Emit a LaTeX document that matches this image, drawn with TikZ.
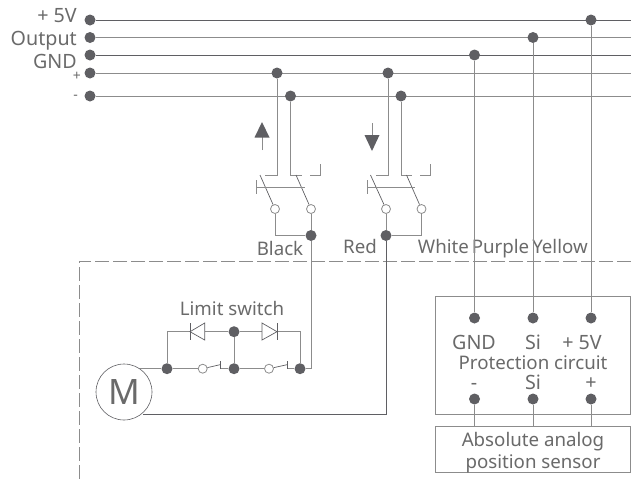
\documentclass[tikz,border=0pt]{standalone}
\usepackage{fontspec}
\setmainfont{Noto Sans}
\usepackage{tikz}
\usetikzlibrary{positioning, calc}
\definecolor{WireGray}{HTML}{8C8C8C}
\definecolor{DarkGray}{HTML}{5F5F63}
\definecolor{TextGray}{HTML}{6A6A6A}

\begin{document}
\begin{tikzpicture}[x=1pt, y=-1pt,
		Dot/.style={circle, fill=DarkGray, inner sep=0pt, minimum size=11pt},
		Open/.style={circle, draw=WireGray, fill=white, line width=0.8pt, inner sep=0pt, minimum size=9pt},
		Wire/.style={draw=WireGray, line width=1pt},
		ThinWire/.style={draw=DarkGray, line width=0.7pt},
		Label/.style={text=TextGray, font=\fontsize{18.7}{18.7}\selectfont, inner sep=0pt, text height=18pt, text depth=4pt},
		BigLabel/.style={Label, font=\fontsize{19.7}{19.7}\selectfont},
		RailSign/.style={Label, anchor=east, font=\fontsize{14}{14}\selectfont, text height=10pt, text depth=0pt},
		Frame/.style={draw=WireGray, line width=0.9pt},
		Arrowhead/.style={fill=DarkGray, draw=none}]

	\useasboundingbox (0,0) rectangle (631,482);

	% supply rails
	\node[Dot] (Vcc) at (90,20) {};
	\node[Dot] (Out) at (90,37.5) {};
	\node[Dot] (Gnd) at (90,55) {};
	\node[Dot] (Plus) at (90,73) {};
	\node[Dot] (Minus) at (90,96) {};
	\coordinate (VccEnd) at (631,20);
	\coordinate (OutEnd) at (631,37.5);
	\coordinate (GndEnd) at (631,55);
	\coordinate (PlusEnd) at (631,73);
	\coordinate (MinusEnd) at (631,96);

	\draw[ThinWire] (Vcc) -- (VccEnd);
	\draw[Wire] (Out) -- (OutEnd);
	\draw[ThinWire] (Gnd) -- (GndEnd);
	\draw[Wire] (Plus) -- (PlusEnd);
	\draw[Wire] (Minus) -- (MinusEnd);

	\node[BigLabel, anchor=east, text height=14pt, text depth=0pt] (VccL) at (77,15) {+ 5V};
	\node[BigLabel, anchor=east, text height=14pt, text depth=0pt] (OutL) at (77,38) {Output};
	\node[BigLabel, anchor=east, text height=14pt, text depth=0pt] (GndL) at (77,61) {GND};
	\node[RailSign] (PlusL) at (81,75) {+};
	\node[RailSign] (MinusL) at (78,94.5) {-};

	% taps on the rails
	\node[Dot] (TapA) at (277,73) {};
	\node[Dot] (TapB) at (290.5,96) {};
	\node[Dot] (TapC) at (388,73) {};
	\node[Dot] (TapD) at (401,96) {};
	\node[Dot] (TapGnd) at (474.5,55) {};
	\node[Dot] (TapOut) at (533,37.5) {};
	\node[Dot] (TapVcc) at (591,20) {};

	% black switch
	\coordinate (BlkA) at (277,175);
	\coordinate (BlkB) at (290.5,175);
	\node[Open] (BlkOpenA) at (275,209) {};
	\node[Open] (BlkOpenB) at (311,209) {};
	\node[Dot] (BlkDot) at (311,235.5) {};
	\draw[Wire] (TapA) -- (BlkA) -- ++(-12,0);
	\draw[Wire] (TapB) -- (BlkB) -- ++(11,0);
	\draw[Wire] (310,175) -- (320,175) -- (320,164);
	\draw[ThinWire] (260,175) -- (BlkOpenA);
	\draw[ThinWire] (296,175) -- (BlkOpenB);
	\draw[Wire] (256,187) -- (305,187);
	\draw[Wire] (256,180) -- (256,194);
	\draw[Wire] (BlkOpenA) |- (BlkDot);
	\draw[Wire] (BlkOpenB) -- (BlkDot);

	% red switch
	\coordinate (RedA) at (388,175);
	\coordinate (RedB) at (401,175);
	\node[Open] (RedOpenA) at (386,209) {};
	\node[Open] (RedOpenB) at (421.5,209) {};
	\node[Dot] (RedDot) at (386,235.5) {};
	\draw[Wire] (TapC) -- (RedA) -- ++(-12,0);
	\draw[Wire] (TapD) -- (RedB) -- ++(11,0);
	\draw[Wire] (420,175) -- (430.5,175) -- (430.5,164);
	\draw[ThinWire] (370.5,175) -- (RedOpenA);
	\draw[ThinWire] (406.5,175) -- (RedOpenB);
	\draw[Wire] (367,187) -- (415,187);
	\draw[Wire] (367,180) -- (367,194);
	\draw[Wire] (RedOpenB) |- (RedDot);
	\draw[Wire] (RedOpenA) -- (RedDot);

	% direction arrows
	\draw[Wire] (262,150) -- (262,135);
	\fill[Arrowhead] (262,122) -- (269.5,137.5) -- (254.5,137.5) -- cycle;
	\draw[Wire] (372,123) -- (372,136);
	\fill[Arrowhead] (372,151) -- (379.5,135) -- (364.5,135) -- cycle;

	% colour labels
	\node[Label] (Black) at (280,248) {Black};
	\node[Label] (Red) at (360,246) {Red};
	\node[Label] (White) at (443.5,246) {White};
	\node[Label] (Purple) at (500.5,246) {Purple};
	\node[Label] (Yellow) at (560,246) {Yellow};

	% boundary
	\draw[Frame, dash pattern=on 14pt off 4pt] (631,261) -- (79,261) -- (79,482);

	% motor and limit switch
	\node[circle, draw=DarkGray, line width=0.6pt, fill=white, minimum size=56pt, inner sep=0pt, text=TextGray, font=\fontsize{35}{35}\selectfont] (M) at (124,392) {M};
	\coordinate (MotorTop) at (140,368.7);
	\coordinate (MotorBottom) at (143,414);
	\coordinate (RedCorner) at (386,414);
	\coordinate (BlkCorner) at (311,368.7);
	\node[Dot] (LimA) at (167,368.7) {};
	\node[Dot] (LimB) at (234,368.7) {};
	\node[Dot] (LimC) at (300,368.7) {};
	\node[Dot] (LimMid) at (234,331.7) {};
	\node[Open] (SwA) at (202.7,368.7) {};
	\node[Open] (SwB) at (269,368.7) {};
	\coordinate (TopA) at (167,331.7);
	\coordinate (TopC) at (300,331.7);

	\draw[Wire] (MotorTop) -- (LimA) -- (SwA);
	\draw[Wire] (220,368.7) -- (LimB) -- (SwB);
	\draw[Wire] (287,368.7) -- (LimC) -- (BlkCorner) -- (BlkDot);
	\draw[ThinWire] (RedDot) -- (RedCorner) -- (MotorBottom);
	\draw[ThinWire] (SwA) -- (220,364.7);
	\draw[ThinWire] (SwB) -- (287,364.7);
	\draw[ThinWire] (220,361) -- (220,368.7);
	\draw[ThinWire] (287,361) -- (287,368.7);
	\draw[Wire] (LimA) -- (TopA) -- (190,331.7);
	\draw[Wire] (204.7,331.7) -- (LimMid) -- (262,331.7);
	\draw[Wire] (277,331.7) -- (TopC) -- (LimC);
	\draw[Wire] (LimMid) -- (LimB);
	\draw[ThinWire, fill=white] (190,331.7) -- (204.7,323) -- (204.7,340) -- cycle;
	\draw[ThinWire] (190,323) -- (190,340);
	\draw[ThinWire, fill=white] (277,331.7) -- (262,323) -- (262,340) -- cycle;
	\draw[ThinWire] (277,323) -- (277,340);
	\node[Label] (Limit) at (232,308) {Limit switch};

	% protection circuit and sensor
	\draw[Frame, fill=white] (435.3,296.7) rectangle (630,414);
	\draw[Frame, fill=white] (435.3,426) rectangle (630,472.7);
	\node[Dot] (PGnd) at (474.5,318) {};
	\node[Dot] (PSi) at (533,318) {};
	\node[Dot] (PVcc) at (591,318) {};
	\node[Dot] (QMinus) at (474.5,399) {};
	\node[Dot] (QSi) at (533,399) {};
	\node[Dot] (QPlus) at (591,399) {};
	\coordinate (SGnd) at (474.5,426);
	\coordinate (SSi) at (533,426);
	\coordinate (SPlus) at (591,426);

	\draw[Wire] (TapGnd) -- (PGnd);
	\draw[Wire] (TapOut) -- (PSi);
	\draw[Wire] (TapVcc) -- (PVcc);
	\draw[Wire] (QMinus) -- (SGnd);
	\draw[Wire] (QSi) -- (SSi);
	\draw[Wire] (QPlus) -- (SPlus);

	\node[BigLabel] (PGndL) at (474,342) {GND};
	\node[BigLabel] (PSiL) at (533,342) {Si};
	\node[BigLabel] (PVccL) at (582,342) {+ 5V};
	\node[Label] (Protect) at (533,362) {Protection circuit};
	\node[BigLabel] (QMinusL) at (474,382) {-};
	\node[BigLabel] (QSiL) at (533,382) {Si};
	\node[BigLabel] (QPlusL) at (591,382) {+};
	\node[Label] (Abs) at (533,439) {Absolute analog};
	\node[Label] (Pos) at (533,461) {position sensor};
\end{tikzpicture}
\end{document}
